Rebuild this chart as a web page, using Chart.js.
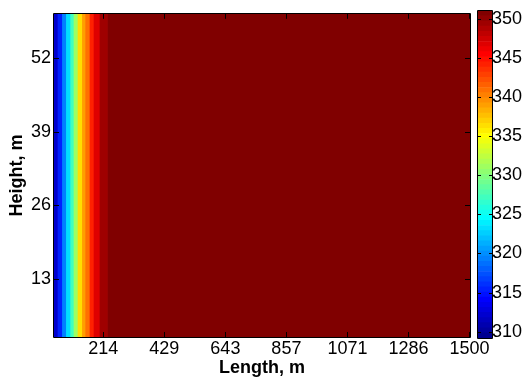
<!DOCTYPE html>
<html>
<head>
<meta charset="utf-8">
<script src="https://cdn.jsdelivr.net/npm/chart.js@4.4.1/dist/chart.umd.min.js"></script>
<style>
  html, body { margin: 0; padding: 0; background: #fff; }
  #wrap { position: relative; width: 529px; height: 379px; overflow: hidden; }
  #main { position: absolute; left: 0; top: 0; }
  #cbar { position: absolute; left: 470px; top: 0; }
</style>
</head>
<body>
<div id="wrap">
  <canvas id="main" width="529" height="379"></canvas>
  <canvas id="cbar" width="59" height="379"></canvas>
</div>
<script>
// ---- Data ----
// Column edges along the length (m); the field is uniform with height.
const xEdges = [41, 52.7, 68.2, 82.2, 97.3, 108.9, 123, 138.4, 150, 165.1, 179.2, 200.2, 228.4, 1502];
// Temperature of each column band
const bandTemps = [312.0, 315.3, 319.0, 323.0, 327.0, 331.3, 336.0, 338.7, 341.2, 343.9, 346.6, 349.1, 351.0];
// Axis extents and ticks
const xRange = [41, 1502];
const yRange = [2.74, 59.84];
const xTickValues = [214.29, 428.57, 642.86, 857.14, 1071.43, 1285.71, 1500];
const xTickLabels = ['214', '429', '643', '857', '1071', '1286', '1500'];
const yTickValues = [13, 26, 39, 52];
const yTickLabels = ['13', '26', '39', '52'];
const cRange = [309.2, 351.0];
const cbTickValues = [310, 315, 320, 325, 330, 335, 340, 345, 350];
const cbTickLabels = ['310', '315', '320', '325', '330', '335', '340', '345', '350'];
const nColors = 64;

// ---- Colour map (MATLAB jet(64)) ----
const jetU = [];
for (let j = 1; j <= 16; j++) jetU.push(j / 16);
for (let j = 0; j < 15; j++) jetU.push(1);
for (let j = 16; j >= 1; j--) jetU.push(j / 16);
function jetComp(pos) { return (pos >= 1 && pos <= jetU.length) ? jetU[pos - 1] : 0; }
function jetColor(k) {
  const i = k + 1; // 1-based index into the 64-colour map
  const r = jetComp(i - 24);
  const g = jetComp(i - 8);
  const b = jetComp(i + 8);
  return 'rgb(' + Math.round(r * 255) + ',' + Math.round(g * 255) + ',' + Math.round(b * 255) + ')';
}
function colorFor(t) {
  let k = Math.floor((t - cRange[0]) / (cRange[1] - cRange[0]) * nColors);
  k = Math.max(0, Math.min(nColors - 1, k));
  return jetColor(k);
}

Chart.defaults.font.family = "'Liberation Sans', Arial, sans-serif";
Chart.defaults.color = '#000';

// Draws MATLAB-like box and inward ticks using the chart's scales
const boxPlugin = {
  id: 'matlabBox',
  afterDraw(chart, args, opts) {
    const ctx = chart.ctx, a = chart.chartArea;
    const L = opts.tickLen || 5;
    ctx.save();
    ctx.strokeStyle = '#000';
    ctx.lineWidth = 1;
    ctx.beginPath();
    ctx.rect(Math.round(a.left) - 0.5, Math.round(a.top) - 0.5, Math.round(a.right - a.left) + 1, Math.round(a.bottom - a.top) + 1);
    ctx.stroke();
    ctx.beginPath();
    (opts.hScale ? chart.scales[opts.hScale].ticks : []).forEach(t => {
      const px = Math.round(chart.scales[opts.hScale].getPixelForValue(t.value)) + 0.5;
      ctx.moveTo(px, a.bottom); ctx.lineTo(px, a.bottom - L);
      ctx.moveTo(px, a.top); ctx.lineTo(px, a.top + L);
    });
    (opts.vScale ? chart.scales[opts.vScale].ticks : []).forEach(t => {
      const py = Math.round(chart.scales[opts.vScale].getPixelForValue(t.value)) + 0.5;
      ctx.moveTo(a.left, py); ctx.lineTo(a.left + L, py);
      ctx.moveTo(a.right, py); ctx.lineTo(a.right - L, py);
    });
    ctx.stroke();
    ctx.restore();
  }
};

// ---- Main heat map ----
const mainDatasets = bandTemps.map((t, i) => ({
  label: 'T' + i,
  data: [[xEdges[i], xEdges[i + 1]]],
  backgroundColor: colorFor(t),
  borderWidth: 0,
  barPercentage: 1,
  categoryPercentage: 1,
  grouped: false,
  yAxisID: 'y',
  xAxisID: 'x'
}));

new Chart(document.getElementById('main'), {
  type: 'bar',
  data: { labels: ['h'], datasets: mainDatasets },
  options: {
    indexAxis: 'y',
    responsive: false,
    animation: false,
    devicePixelRatio: 1,
    layout: { padding: { left: 0, top: 7, right: 59, bottom: 0 } },
    plugins: {
      legend: { display: false },
      tooltip: { enabled: false },
      matlabBox: { hScale: 'x', vScale: 'yH', tickLen: 5 }
    },
    scales: {
      x: {
        type: 'linear', position: 'bottom',
        min: xRange[0], max: xRange[1],
        offset: false,
        afterBuildTicks: s => { s.ticks = xTickValues.map(v => ({ value: v })); },
        afterFit: s => { s.height = 42; },
        grid: { display: false, drawTicks: false, tickLength: 0 },
        border: { display: false },
        ticks: { font: { size: 18 }, padding: 1, maxRotation: 0, autoSkip: false,
                 callback: (v, i) => xTickLabels[i] },
        title: { display: true, text: 'Length, m', font: { size: 18, weight: 'bold' }, padding: { top: 0, bottom: 0 } }
      },
      y: { type: 'category', display: false },
      yH: {
        type: 'linear', position: 'left',
        min: yRange[0], max: yRange[1],
        offset: false,
        afterBuildTicks: s => { s.ticks = yTickValues.map(v => ({ value: v })); },
        afterFit: s => { s.width = 54; },
        grid: { display: false, drawTicks: false, tickLength: 0, offset: false },
        border: { display: false },
        ticks: { font: { size: 18 }, padding: 3, autoSkip: false,
                 callback: (v, i) => yTickLabels[i] },
        title: { display: true, text: 'Height, m', font: { size: 18, weight: 'bold' }, padding: { top: 6, bottom: 0 } }
      }
    }
  },
  plugins: [boxPlugin]
});

// ---- Colour bar ----
const cbDatasets = [];
for (let k = 0; k < nColors; k++) {
  const lo = cRange[0] + (cRange[1] - cRange[0]) * k / nColors;
  const hi = cRange[0] + (cRange[1] - cRange[0]) * (k + 1) / nColors;
  cbDatasets.push({
    label: 'c' + k,
    data: [[lo, hi]],
    backgroundColor: jetColor(k),
    borderWidth: 0,
    barPercentage: 1,
    categoryPercentage: 1,
    grouped: false,
    xAxisID: 'x',
    yAxisID: 'c'
  });
}

new Chart(document.getElementById('cbar'), {
  type: 'bar',
  data: { labels: ['cb'], datasets: cbDatasets },
  options: {
    responsive: false,
    animation: false,
    devicePixelRatio: 1,
    layout: { padding: { left: 8, top: 7, right: 0, bottom: 41 } },
    plugins: {
      legend: { display: false },
      tooltip: { enabled: false },
      matlabBox: { vScale: 'c', tickLen: 3 }
    },
    scales: {
      x: { type: 'category', display: false },
      c: {
        type: 'linear', position: 'right',
        min: cRange[0], max: cRange[1],
        offset: false,
        afterBuildTicks: s => { s.ticks = cbTickValues.map(v => ({ value: v })); },
        afterFit: s => { s.width = 37; },
        grid: { display: false, drawTicks: false, tickLength: 0 },
        border: { display: false },
        ticks: { font: { size: 18 }, padding: 0, autoSkip: false,
                 callback: (v, i) => cbTickLabels[i] }
      }
    }
  },
  plugins: [boxPlugin]
});
</script>
</body>
</html>
